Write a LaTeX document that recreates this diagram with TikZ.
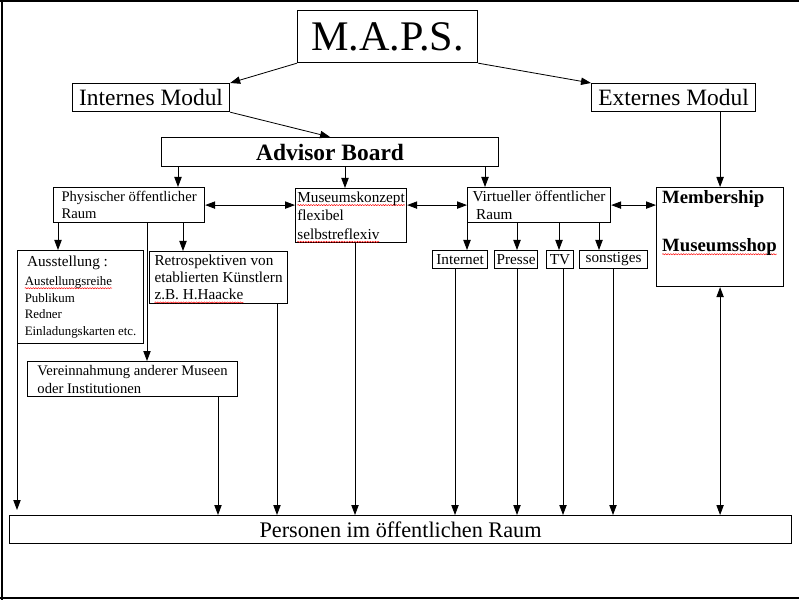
\documentclass[tikz,border=0pt]{standalone}
\usepackage{fontspec}
\setmainfont{Liberation Serif}
\usetikzlibrary{positioning, arrows.meta, decorations.pathmorphing, calc}

% red wavy line under a word
\newsavebox\spellbox
\newcommand\spell[1]{\sbox\spellbox{#1}\rlap{\tikz[overlay]\draw[red, line width=0.4pt, decorate, decoration={snake, amplitude=0.5pt, segment length=2.2pt}] (0pt,-2.3pt) -- (\wd\spellbox,-2.3pt);}\usebox\spellbox}

\begin{document}
\begin{tikzpicture}[x=0.3mm, y=-0.3mm,
    panel/.style={draw, line width=1pt, inner sep=0pt, anchor=north west, align=left},
    arr/.style={line width=0.7pt, -{Triangle[length=3mm, width=2.2mm]}},
    darr/.style={line width=0.7pt, {Triangle[length=3mm, width=2.2mm]}-{Triangle[length=3mm, width=2.2mm]}},
    bigtext/.style={font=\fontsize{20}{24}\selectfont},
    smalltext/.style={font=\fontsize{13}{15}\selectfont}]
            \def\px{0.3mm}

            \useasboundingbox (0,0) rectangle (799,600);

            % frame
            \draw[line width=1.6pt] (0,1) -- (799,1);
            \draw[line width=1.6pt] (2,0) -- (2,600);
            \draw[line width=2pt] (0,598) -- (799,598);

            % top level
            \node[panel, font=\fontsize{36}{40}\selectfont, minimum width=180*\px, minimum height=52*\px] (maps) at (297,10) {M.A.P.S.};
            \node[panel, bigtext, minimum width=157*\px, minimum height=28*\px] (intern) at (72,83) {Internes Modul};
            \node[panel, bigtext, minimum width=164*\px, minimum height=28*\px] (extern) at (591,83) {Externes Modul};
            \node[panel, font=\fontsize{20}{24}\selectfont\bfseries, minimum width=337*\px, minimum height=29*\px] (advisor) at (161,137) {Advisor Board};

            % rooms
            \node[panel, font=\fontsize{12.5}{14.5}\selectfont, minimum width=151*\px, minimum height=35*\px] (phys) at (53,187)
                {Physischer öffentlicher\\Raum};
            \node[panel, font=\fontsize{13}{15.7}\selectfont, minimum width=111*\px, minimum height=54*\px] (konzept) at (295,188)
                {\spell{Museumskonzept}\\flexibel\\\spell{selbstreflexiv}};
            \node[panel, smalltext, minimum width=143*\px, minimum height=35*\px] (virtuell) at (467,187)
                {Virtueller öffentlicher\\\hspace{3pt}Raum};
            \node[panel, minimum width=127*\px, minimum height=99*\px] (member) at (656,187) {};
            \node[font=\fontsize{16}{19}\selectfont\bfseries, align=left] (membertext) at (719.5,223)
                {Membership\\[22pt]\spell{Museumsshop}};

            % media
            \node[panel, smalltext, minimum width=55*\px, minimum height=18*\px] (internet) at (432,250) {Internet};
            \node[panel, smalltext, minimum width=43*\px, minimum height=18*\px] (presse) at (494,250) {Presse};
            \node[panel, smalltext, minimum width=27*\px, minimum height=18*\px] (tv) at (546,250) {TV};
            \node[panel, smalltext, minimum width=68*\px, minimum height=18*\px] (sonst) at (579,250) {sonstiges};

            % physical room
            \node[panel, font=\fontsize{11}{14.2}\selectfont, minimum width=126*\px, minimum height=93*\px] (ausst) at (17,250)
                {\hspace{2pt}{\fontsize{13}{15}\selectfont Ausstellung :}\\[2pt]\spell{Austellungsreihe}\\Publikum\\Redner\\Einladungskarten etc.};
            \node[panel, font=\fontsize{13}{14.5}\selectfont, minimum width=138*\px, minimum height=52*\px] (retro) at (149,251)
                {Retrospektiven von\\etablierten Künstlern\\\spell{z.B. H.Haacke}};
            \node[panel, font=\fontsize{12.5}{15.3}\selectfont, minimum width=210*\px, minimum height=35*\px] (verein) at (27,361)
                {Vereinnahmung anderer Museen\\oder Institutionen};

            % bottom
            \node[panel, font=\fontsize{19}{22}\selectfont, minimum width=782*\px, minimum height=28*\px] (personen) at (9,515)
                {Personen im öffentlichen Raum};

            % arrows from the top
            \draw[arr] (maps.south west) -- (intern.north east);
            \draw[arr] (maps.south east) -- (extern.north west);
            \draw[arr] (intern.south east) -- (advisor.north);
            \draw[arr] (extern.south -| member.north) -- (member.north);

            % advisor board down
            \foreach \target/\xpos in {phys/178, konzept/345, virtuell/485}
            {
                \draw[arr] (\xpos,0 |- advisor.south) -- (\xpos,0 |- \target.north);
            }

            % links between the rooms
            \draw[darr] (phys.east) -- (phys.east -| konzept.west);
            \draw[darr] (konzept.east |- phys.east) -- (virtuell.west |- phys.east);
            \draw[darr] (virtuell.east) -- (virtuell.east -| member.west);

            % media
            \foreach \medium/\xa/\xb in {internet/467/455, presse/517/517, tv/559/563, sonst/599/613}
            {
                \draw[arr] (\xa,0 |- virtuell.south) -- (\xa,0 |- \medium.north);
                \draw[arr] (\xb,0 |- \medium.south) -- (\xb,0 |- personen.north);
            }

            % physical room
            \draw[arr] (58,0 |- phys.south) -- (58,0 |- ausst.north);
            \draw[arr] (183,0 |- phys.south) -- (183,0 |- retro.north);
            \draw[arr] (147,0 |- phys.south) -- (147,0 |- verein.north);

            % down to the people
            \draw[arr, shorten >=1.5mm] (ausst.south west) -- (ausst.south west |- personen.north);
            \draw[arr] (218,0 |- verein.south) -- (218,0 |- personen.north);
            \draw[arr] (277,0 |- retro.south) -- (277,0 |- personen.north);
            \draw[arr] (355,0 |- konzept.south) -- (355,0 |- personen.north);
            \draw[darr] (member.south) -- (member.south |- personen.north);
\end{tikzpicture}
\end{document}
